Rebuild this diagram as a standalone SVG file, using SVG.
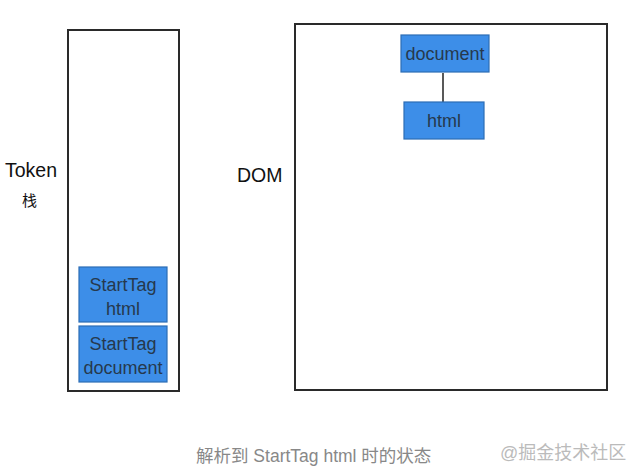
<svg xmlns="http://www.w3.org/2000/svg" width="631" height="474" viewBox="0 0 631 474">
<style>
.frame{fill:#fff;stroke:#2a2a2a;stroke-width:2}
.blue{fill:#3d8ee8;stroke:#2c6db5;stroke-width:1.2}
.t{font-family:"Comic Sans MS","Liberation Sans",sans-serif;font-size:18px;fill:#26394d;text-anchor:middle}
.lbl{font-family:"Liberation Sans","Noto Sans CJK SC",sans-serif;font-size:19.5px;fill:#111}
.cap{font-family:"Liberation Sans","Noto Sans CJK SC",sans-serif;font-size:17.5px;fill:#888}
.wm{font-family:"Liberation Sans","Noto Sans CJK SC",sans-serif;font-size:18px;fill:#bbb}
</style>
<rect width="631" height="474" fill="#fff"/>
<g id="token-stack">
<rect class="frame" x="68" y="30" width="111" height="361"/>
</g>
<g id="dom-area">
<rect class="frame" x="295" y="24" width="312" height="366"/>
</g>
<g id="label-token">
<text class="lbl" x="5" y="177">Token</text>
<text class="lbl" x="22" y="206" style="font-size:15px">栈</text>
</g>
<g id="label-dom">
<text class="lbl" x="237" y="182">DOM</text>
</g>
<g id="connectors">
<line x1="443" y1="73" x2="443" y2="102" stroke="#222" stroke-width="1.5"/>
</g>
<g id="stack-html">
<rect class="blue" x="79" y="267" width="88" height="55"/>
<text class="t" x="123" y="291">StartTag</text>
<text class="t" x="123" y="315">html</text>
</g>
<g id="stack-document">
<rect class="blue" x="79" y="326" width="88" height="56"/>
<text class="t" x="123" y="350">StartTag</text>
<text class="t" x="123" y="374">document</text>
</g>
<g id="dom-document">
<rect class="blue" x="401" y="35" width="88" height="37"/>
<text class="t" x="445" y="60">document</text>
</g>
<g id="dom-html">
<rect class="blue" x="404" y="102" width="80" height="37"/>
<text class="t" x="444" y="127">html</text>
</g>
<g id="caption">
<text class="cap" x="196" y="462">解析到 StartTag html 时的状态</text>
<text class="wm" x="500" y="459">@掘金技术社区</text>
</g>
</svg>
